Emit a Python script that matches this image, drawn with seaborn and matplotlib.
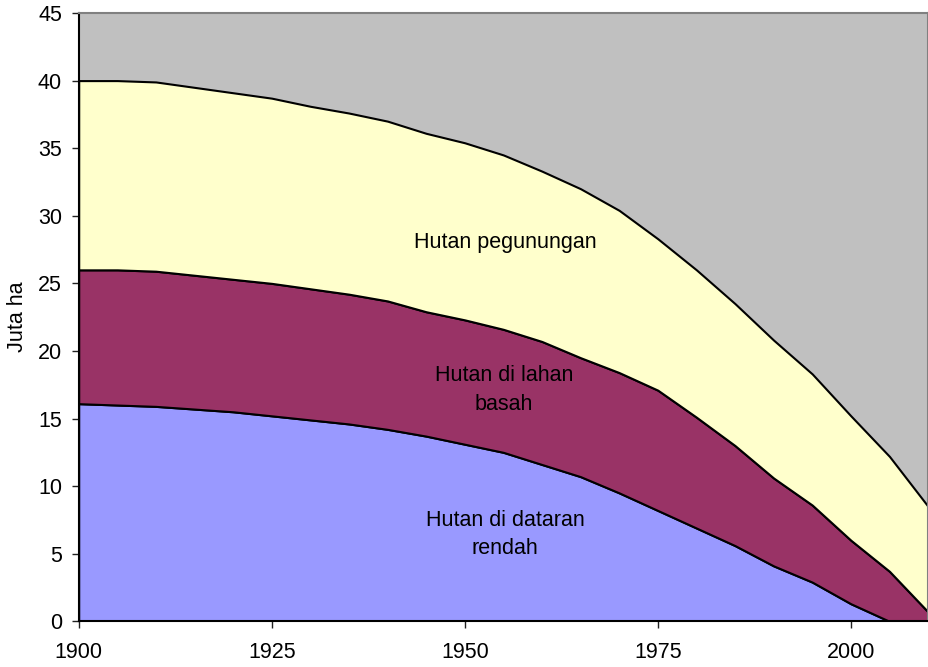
import matplotlib
matplotlib.use("Agg")
import matplotlib.pyplot as plt
import seaborn as sns
import numpy as np

years = list(range(1900, 2011, 5))

# forest area in million ha
lowland = [16.1, 16.0, 15.9, 15.7, 15.5, 15.2, 14.9, 14.6, 14.2, 13.7, 13.1, 12.5,
           11.6, 10.7, 9.5, 8.2, 6.9, 5.6, 4.1, 2.9, 1.3, 0.0, 0.0]
wetland_top = [26.0, 26.0, 25.9, 25.6, 25.3, 25.0, 24.6, 24.2, 23.7, 22.9, 22.3, 21.6,
               20.7, 19.5, 18.4, 17.1, 15.1, 13.0, 10.6, 8.6, 6.0, 3.7, 0.7]
total = [40.0, 40.0, 39.9, 39.5, 39.1, 38.7, 38.1, 37.6, 37.0, 36.1, 35.4, 34.5,
         33.3, 32.0, 30.4, 28.3, 26.0, 23.5, 20.8, 18.3, 15.2, 12.2, 8.5]

wetland = list(np.array(wetland_top) - np.array(lowland))
montane = list(np.array(total) - np.array(wetland_top))

labels = ["Hutan di dataran\nrendah", "Hutan di lahan\nbasah", "Hutan pegunungan"]
colors = ["#9999FF", "#993366", "#FFFFCC"]

sns.set_theme(style="ticks")
plt.rcParams["font.family"] = ["Liberation Sans", "DejaVu Sans"]
plt.rcParams["text.color"] = "black"
plt.rcParams["xtick.labelcolor"] = "black"
plt.rcParams["ytick.labelcolor"] = "black"
plt.rcParams["axes.labelcolor"] = "black"

fs = 15.5

fig = plt.figure(figsize=(9.29, 6.67), dpi=100)
ax = fig.add_axes([0.0847, 0.0685, 0.9153 - 0.001, 0.912])
ax.set_facecolor("#C0C0C0")

ax.stackplot(years, lowland, wetland, montane, colors=colors,
             edgecolor="black", linewidth=1.5)

ax.set_xlim(1900, 2010)
ax.set_ylim(0, 45)
ax.set_xticks([1900, 1925, 1950, 1975, 2000])
ax.set_yticks(range(0, 46, 5))
ax.tick_params(axis="both", labelsize=fs, length=5, width=1, color="#202020")
ax.tick_params(axis="y", pad=7)
ax.tick_params(axis="x", pad=10)
ax.set_ylabel("Juta ha", fontsize=fs, labelpad=7)

for side in ["left", "bottom"]:
    ax.spines[side].set_color("black")
    ax.spines[side].set_linewidth(1.5)
for side in ["top", "right"]:
    ax.spines[side].set_color("#808080")
    ax.spines[side].set_linewidth(1.5)

ax.text(1955.3, 28.05, labels[2], ha="center", va="center", fontsize=fs)
ax.text(1955.1, 17.1, labels[1], ha="center", va="center", fontsize=fs, linespacing=1.5)
ax.text(1955.2, 6.4, labels[0], ha="center", va="center", fontsize=fs, linespacing=1.45)

fig.savefig("out.png", dpi=100)
